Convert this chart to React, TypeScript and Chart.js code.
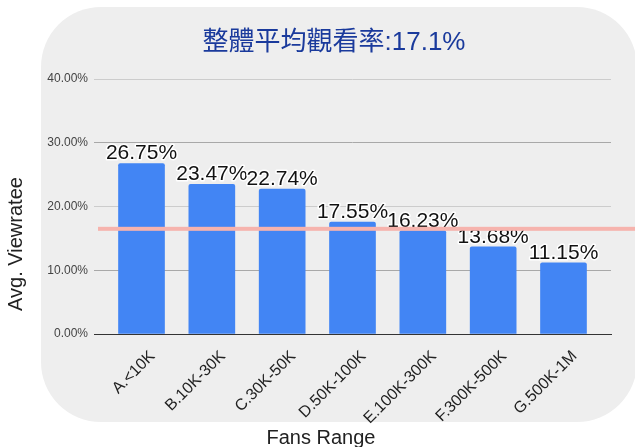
import React, { useEffect, useRef } from "react";
import { Chart, registerables } from "chart.js";

Chart.register(...registerables);

// Fan-count buckets and their average view rate (%)
const categories = [
  "A.<10K",
  "B.10K-30K",
  "C.30K-50K",
  "D.50K-100K",
  "E.100K-300K",
  "F.300K-500K",
  "G.500K-1M",
];
const viewRates = [26.75, 23.47, 22.74, 17.55, 16.23, 13.68, 11.15];
const yTickValues = [0, 10, 20, 30, 40];
const overallAverage = 17.1;
const guideLineLevel = 16.5;

const FONT = "'Liberation Sans', Arial, 'Noto Sans CJK TC', sans-serif";

export default function App() {
  const canvasRef = useRef<HTMLCanvasElement>(null);

  useEffect(() => {
    const canvas = canvasRef.current;
    if (!canvas) return;

    // rounded light-grey card behind the plot
    const panelPlugin = {
      id: "panel",
      beforeDraw(chart: any) {
        const { ctx } = chart;
        ctx.save();
        ctx.fillStyle = "#eeeeee";
        ctx.beginPath();
        ctx.roundRect(41, 7, 596, 415, 60);
        ctx.fill();
        ctx.restore();
      },
    };

    // value labels with a white halo above each bar
    const valueLabelPlugin = {
      id: "valueLabels",
      afterDatasetsDraw(chart: any) {
        const { ctx } = chart;
        const meta = chart.getDatasetMeta(0);
        ctx.save();
        ctx.font = `21px ${FONT}`;
        ctx.textAlign = "center";
        ctx.textBaseline = "alphabetic";
        ctx.lineJoin = "round";
        meta.data.forEach((bar: any, i: number) => {
          const text = viewRates[i].toFixed(2) + "%";
          ctx.lineWidth = 3;
          ctx.strokeStyle = "rgba(255,255,255,0.95)";
          ctx.strokeText(text, bar.x, bar.y - 4);
          ctx.fillStyle = "#111111";
          ctx.fillText(text, bar.x, bar.y - 4);
        });
        ctx.restore();
      },
    };

    // headline, axis titles and the pink guide line
    const overlayPlugin = {
      id: "overlay",
      afterDraw(chart: any) {
        const { ctx, chartArea, width } = chart;
        const yScale = chart.scales.y;
        ctx.save();

        const gy = yScale.getPixelForValue(guideLineLevel);
        ctx.fillStyle = "#f6b3ad";
        ctx.fillRect(chartArea.left + 4, gy - 2, width - chartArea.left - 4, 4);

        ctx.fillStyle = "#1a3a9c";
        ctx.font = `26px ${FONT}`;
        ctx.textAlign = "center";
        ctx.textBaseline = "alphabetic";
        ctx.fillText(`整體平均觀看率:${overallAverage}%`, 334, 50);

        ctx.fillStyle = "#222222";
        ctx.font = `20px ${FONT}`;
        ctx.fillText("Fans Range", 321, 444);

        ctx.translate(22, 244);
        ctx.rotate(-Math.PI / 2);
        ctx.fillText("Avg. Viewratee", 0, 0);
        ctx.restore();
      },
    };

    const chart = new Chart(canvas, {
      type: "bar",
      data: {
        datasets: [
          {
            data: viewRates.map((v, i) => ({ x: i, y: v })),
            backgroundColor: "#4285f4",
            barThickness: 46,
            borderRadius: { topLeft: 2, topRight: 2, bottomLeft: 0, bottomRight: 0 },
            borderSkipped: "start",
          },
        ],
      },
      options: {
        animation: false,
        responsive: false,
        events: [],
        layout: { padding: { left: 0, right: 24, top: 79, bottom: 0 } },
        plugins: {
          legend: { display: false },
          tooltip: { enabled: false },
          title: { display: false },
        },
        scales: {
          x: {
            type: "linear",
            offset: false,
            min: -0.6755,
            max: 6.6755,
            grid: { display: false, drawTicks: false, offset: false },
            border: { display: true, color: "#333333", width: 1 },
            afterBuildTicks: (scale: any) => {
              scale.ticks = categories.map((_, i) => ({ value: i }));
            },
            afterFit: (scale: any) => {
              scale.height = 113;
            },
            ticks: {
              autoSkip: false,
              minRotation: 45,
              maxRotation: 45,
              labelOffset: 11,
              padding: 13,
              color: "#222222",
              font: { family: FONT, size: 16 },
              callback: (v: any) => categories[v] ?? "",
            },
          },
          y: {
            min: 0,
            max: 40,
            afterBuildTicks: (scale: any) => {
              scale.ticks = yTickValues.map((v) => ({ value: v }));
            },
            afterFit: (scale: any) => {
              scale.width = 94;
            },
            border: { display: false },
            grid: {
              drawTicks: false,
              lineWidth: 1,
              color: (ctx: any) => {
                const v = ctx.tick ? ctx.tick.value : 0;
                if (v === 0) return "#333333";
                return v % 20 === 10 ? "#a8a8a8" : "#cccccc";
              },
            },
            ticks: {
              padding: 6,
              color: "#444444",
              font: { family: FONT, size: 12 },
              callback: (v: any) => Number(v).toFixed(2) + "%",
            },
          },
        },
      },
      plugins: [panelPlugin, valueLabelPlugin, overlayPlugin],
    } as any);

    return () => chart.destroy();
  }, []);

  return (
    <div style={{ position: "absolute", left: 0, top: 0, width: 635, height: 447 }}>
      <canvas ref={canvasRef} width={635} height={447} style={{ display: "block" }} />
    </div>
  );
}
